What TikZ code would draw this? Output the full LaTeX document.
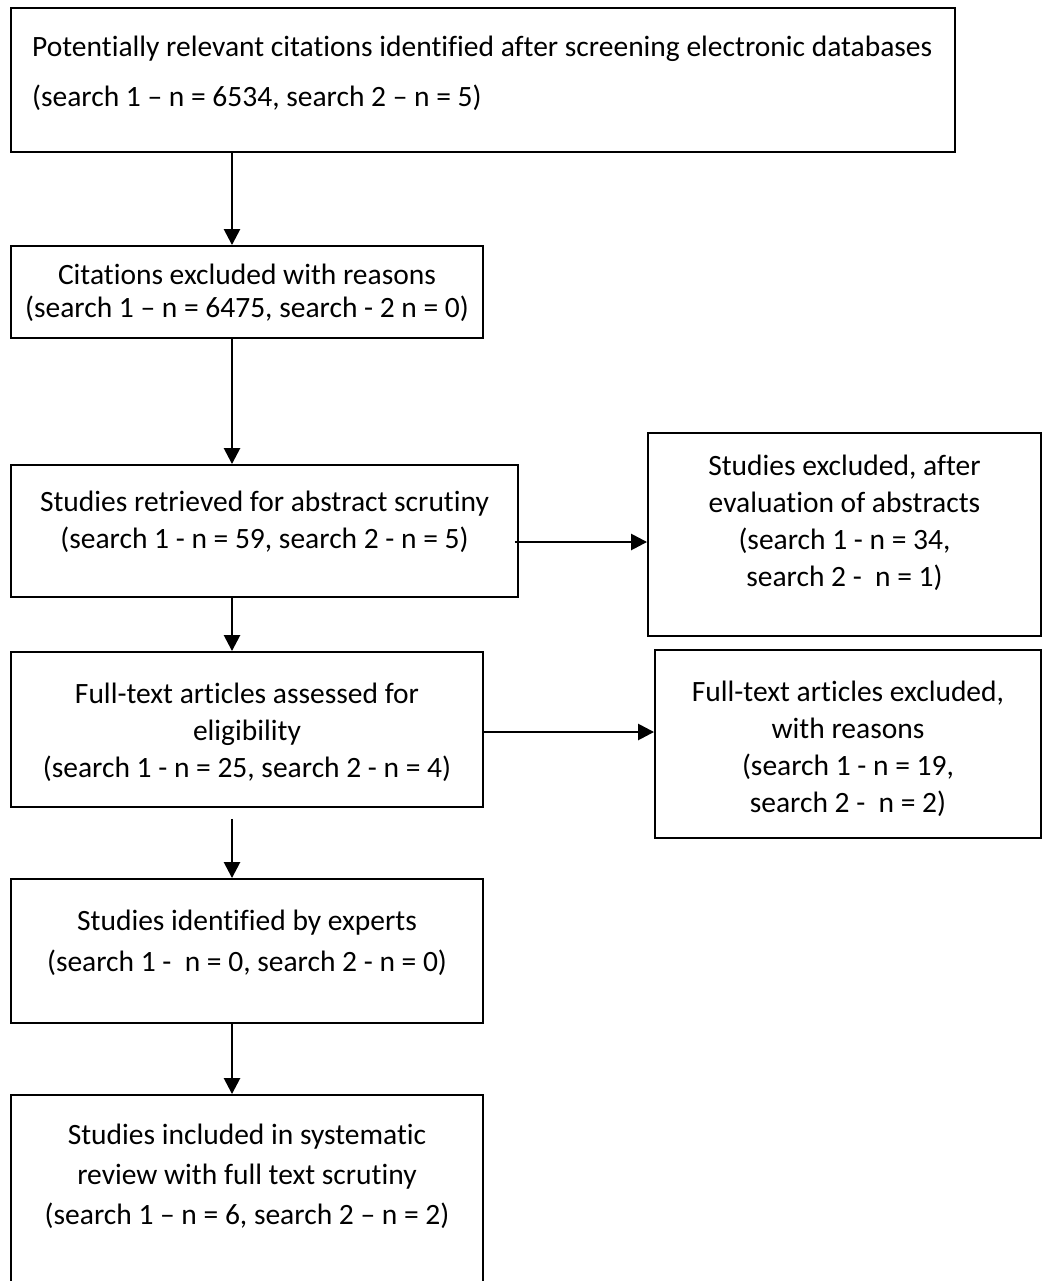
\documentclass[tikz,border=0pt]{standalone}
\usepackage{fontspec}
\setmainfont{Carlito}[Ligatures=NoCommon]
\usetikzlibrary{arrows.meta}
\tikzset{
  box/.style={draw, line width=1.9pt, inner sep=0pt},
  txt/.style={align=center, anchor=north, inner sep=0pt, font=\fontsize{29.5}{37}\selectfont},
  arr/.style={line width=2.6pt, -{Triangle[length=16pt, width=16pt]}}
}
\begin{document}
\begin{tikzpicture}[x=1pt, y=-1pt]
	\useasboundingbox (0,0) rectangle (1042,1281);
	\coordinate (spine) at (232,0);
	\coordinate (rowA) at (0,542);
	\coordinate (rowB) at (0,732);

	%boxes
	\node[box, minimum width=944pt, minimum height=144pt] (cites) at (483,80) {};
	\node[box, minimum width=472pt, minimum height=92pt] (excl) at (247,292) {};
	\node[box, minimum width=507pt, minimum height=132pt] (abs) at (264.5,531) {};
	\node[box, minimum width=393pt, minimum height=203pt] (exA) at (844.5,534.5) {};
	\node[box, minimum width=472pt, minimum height=155pt] (full) at (247,729.5) {};
	\node[box, minimum width=386pt, minimum height=188pt] (exB) at (848,744) {};
	\node[box, minimum width=472pt, minimum height=144pt] (expert) at (247,951) {};
	\node[box, minimum width=472pt, minimum height=200pt] (incl) at (247,1195) {};

	%texts
	\node[txt, anchor=north west, align=left] (t1) at (32,36)
		{Potentially relevant citations identified after screening electronic databases\\[13pt]
		 (search 1 – n = 6534, search 2 – n = 5)};
	\node[txt, font=\fontsize{29.5}{33}\selectfont] (t2) at (excl.north |- 0,264)
		{Citations excluded with reasons\\(search 1 – n = 6475, search - 2 n = 0)};
	\node[txt] (t3) at (abs.north |- 0,491)
		{Studies retrieved for abstract scrutiny\\(search 1 - n = 59, search 2 - n = 5)};
	\node[txt] (t4) at (exA.north |- 0,455)
		{Studies excluded, after\\evaluation of abstracts\\(search 1 - n = 34,\\search 2 -~ n = 1)};
	\node[txt] (t5) at (full.north |- 0,683)
		{Full-text articles assessed for\\eligibility\\(search 1 - n = 25, search 2 - n = 4)};
	\node[txt] (t6) at (exB.north |- 0,681)
		{Full-text articles excluded,\\with reasons\\(search 1 - n = 19,\\search 2 -~ n = 2)};
	\node[txt, font=\fontsize{29.5}{41}\selectfont] (t7) at (expert.north |- 0,910)
		{Studies identified by experts\\(search 1 -~ n = 0, search 2 - n = 0)};
	\node[txt, font=\fontsize{29.5}{40}\selectfont] (t8) at (incl.north |- 0,1124)
		{Studies included in systematic\\review with full text scrutiny\\(search 1 – n = 6, search 2 – n = 2)};

	%arrows
	\draw[arr] (cites.south -| spine) -- (excl.north -| spine);
	\draw[arr] (excl.south -| spine) -- (abs.north -| spine);
	\draw[arr] (abs.south -| spine) -- (full.north -| spine);
	\draw[arr, shorten <=11pt] (full.south -| spine) -- (expert.north -| spine);
	\draw[arr] (expert.south -| spine) -- (incl.north -| spine);
	\draw[arr, shorten <=-4pt] (abs.east |- rowA) -- (exA.west |- rowA);
	\draw[arr] (full.east |- rowB) -- (exB.west |- rowB);
\end{tikzpicture}
\end{document}
